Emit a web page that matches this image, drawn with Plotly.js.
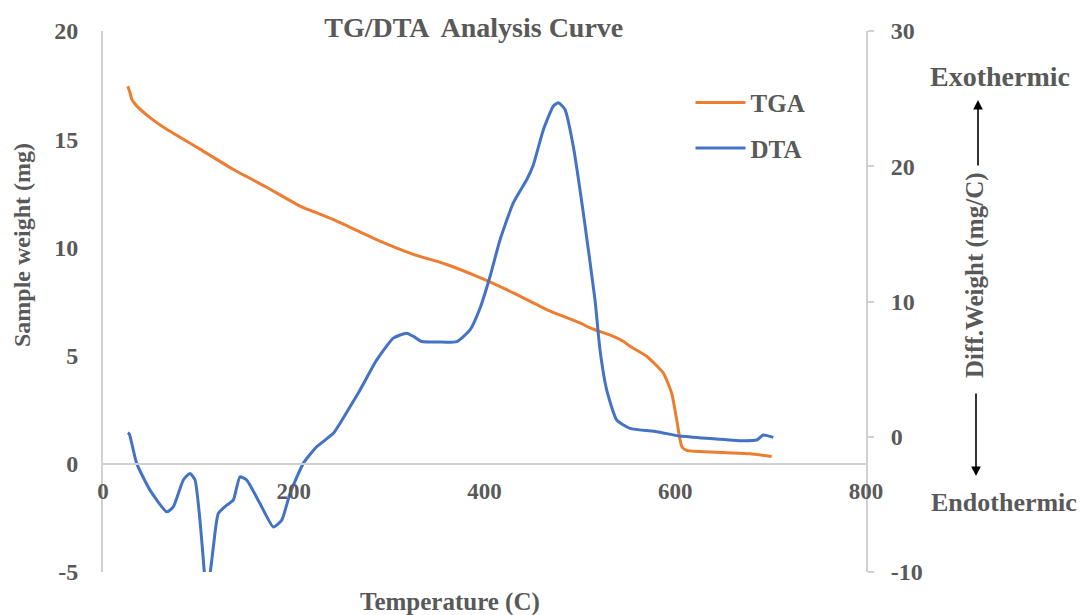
<!DOCTYPE html>
<html>
<head>
<meta charset="utf-8">
<script src="https://cdn.plot.ly/plotly-3.0.1.min.js"></script>
<style>html,body{margin:0;padding:0;background:#fff;}#chart{width:1082px;height:615px;}</style>
</head>
<body>
<div id="chart"></div>
<script>
// Temperature (C) and TGA sample weight (mg)
const tgaTemp = [26, 28.3, 30.1, 35.3, 49.3, 66.8, 101.7, 136.3, 171.6, 206.6, 241.2, 259, 290.4, 325.4, 360.4, 395.3, 430.2, 465.2, 500.1, 510.6, 535.1, 545.5, 552.6, 570, 587.4, 596.2, 601.5, 606.8, 612, 650.4, 678.4, 701.1];
const tgaWeight = [17.45, 17.16, 16.85, 16.54, 16.0, 15.46, 14.54, 13.61, 12.78, 11.91, 11.30, 10.93, 10.29, 9.68, 9.21, 8.60, 7.90, 7.13, 6.51, 6.28, 5.89, 5.66, 5.43, 4.97, 4.2, 3.27, 2.04, 0.80, 0.62, 0.52, 0.46, 0.34];

// Temperature (C) and DTA diff. weight (mg/C)
const dtaTemp = [26, 27.6, 35.3, 49.3, 66.8, 73.7, 84.2, 91.2, 96.5, 101.7, 104.5, 108.5, 112.5, 115.7, 120.9, 129.7, 136.6, 143.6, 150.7, 164.6, 178.6, 187.4, 196.1, 210, 224, 241.5, 259, 269.5, 287, 304.4, 318.4, 326, 334.2, 352, 370.9, 384.8, 395.3, 405.8, 416.3, 430.2, 444.2, 451.2, 461.7, 472.1, 477.4, 484.4, 493.1, 503.6, 515.9, 521.1, 528.1, 538.6, 552.6, 580.6, 605, 633, 667.9, 685.3, 692.3, 702.8];
const dtaValue = [0.3, 0.2, -1.97, -3.95, -5.55, -5.19, -3.2, -2.71, -3.2, -6.2, -8.5, -11.5, -10.0, -8.15, -5.67, -5.06, -4.69, -2.96, -3.21, -4.93, -6.67, -6.17, -4.19, -1.97, -0.74, 0.25, 2.22, 3.46, 5.68, 7.29, 7.66, 7.4, 7.04, 7.0, 7.04, 7.9, 9.5, 11.85, 14.57, 17.29, 19.0, 20.1, 22.7, 24.44, 24.7, 24.2, 21.48, 16.55, 10.1, 6.42, 3.46, 1.24, 0.62, 0.37, 0.05, -0.12, -0.29, -0.24, 0.13, -0.05];

const xTicks = [0, 200, 400, 600, 800];
const leftTicks = [-5, 0, 5, 10, 15, 20];
const rightTicks = [-10, 0, 10, 20, 30];

const FONT = "'Liberation Serif', 'Times New Roman', serif";
const GREY = '#595959';
const AXIS = '#d0d0d0';

const traces = [
  {x: tgaTemp, y: tgaWeight, name: 'TGA', type: 'scatter', mode: 'lines', yaxis: 'y',
   line: {color: '#ED7D31', width: 3, shape: 'spline', smoothing: 0.5}, legendgroup: 'a'},
  {x: dtaTemp, y: dtaValue, name: 'DTA', type: 'scatter', mode: 'lines', yaxis: 'y2',
   line: {color: '#4472C4', width: 3, shape: 'spline', smoothing: 0.5}, legendgroup: 'b'}
];

const layout = {
  width: 1082, height: 615,
  margin: {l: 103, r: 216, t: 31, b: 43},
  paper_bgcolor: '#fff', plot_bgcolor: '#fff',
  font: {family: FONT, color: GREY, weight: 700},
  title: {text: 'TG/DTA  Analysis Curve', font: {size: 28, family: FONT, color: GREY, weight: 700},
          xref: 'paper', x: 0.486, xanchor: 'center', yref: 'container', y: 0.955, yanchor: 'middle'},
  showlegend: true,
  legend: {x: 0.77, xanchor: 'left', y: 0.91, yanchor: 'top', bgcolor: 'rgba(0,0,0,0)', itemwidth: 50,
           font: {size: 25, family: FONT, color: GREY, weight: 700}, tracegroupgap: 10},
  xaxis: {range: [0, 800], tickvals: xTicks, ticktext: xTicks.map(String), anchor: 'free', position: 0.2,
          showline: true, linecolor: AXIS, linewidth: 2, showgrid: false, zeroline: false,
          ticks: '', ticklabelstandoff: 7, tickfont: {size: 23, family: FONT, color: GREY, weight: 700}},
  yaxis: {range: [-5, 20], tickvals: leftTicks, ticktext: leftTicks.map(String),
          showline: true, linecolor: AXIS, linewidth: 2, showgrid: false, zeroline: false,
          ticks: '', ticklabelstandoff: 18, tickfont: {size: 24, family: FONT, color: GREY, weight: 700}},
  yaxis2: {range: [-10, 30], tickvals: rightTicks, ticktext: rightTicks.map(String), overlaying: 'y', side: 'right',
           showline: true, linecolor: AXIS, linewidth: 2, showgrid: false, zeroline: false,
           ticks: 'outside', ticklen: 6, tickcolor: AXIS, tickwidth: 2, ticklabelstandoff: 12,
           tickfont: {size: 24, family: FONT, color: GREY, weight: 700}},
  annotations: [
    {text: 'Sample weight (mg)', xref: 'paper', yref: 'paper', x: (22-103)/763, y: (572-245)/541,
     xanchor: 'center', yanchor: 'middle', textangle: -90, showarrow: false,
     font: {size: 24, family: FONT, color: GREY, weight: 700}},
    {text: 'Temperature (C)', xref: 'paper', yref: 'paper', x: (450-103)/763, y: (572-602)/541,
     xanchor: 'center', yanchor: 'middle', showarrow: false,
     font: {size: 25, family: FONT, color: GREY, weight: 700}},
    {text: 'Diff.Weight (mg/C)', xref: 'paper', yref: 'paper', x: (975-103)/763, y: (572-275)/541,
     xanchor: 'center', yanchor: 'middle', textangle: -90, showarrow: false,
     font: {size: 25, family: FONT, color: GREY, weight: 700}},
    {text: 'Exothermic', xref: 'paper', yref: 'paper', x: (1000-103)/763, y: (572-77)/541,
     xanchor: 'center', yanchor: 'middle', showarrow: false,
     font: {size: 28, family: FONT, color: GREY, weight: 700}},
    {text: 'Endothermic', xref: 'paper', yref: 'paper', x: (1004-103)/763, y: (572-502)/541,
     xanchor: 'center', yanchor: 'middle', showarrow: false,
     font: {size: 26, family: FONT, color: GREY, weight: 700}},
    {text: '', xref: 'paper', yref: 'paper', x: (978-103)/763, y: (572-100)/541,
     ax: 0, ay: 67, showarrow: true, arrowhead: 2, arrowsize: 1.2, arrowwidth: 1.6, arrowcolor: '#000'},
    {text: '', xref: 'paper', yref: 'paper', x: (976-103)/763, y: (572-476)/541,
     ax: 0, ay: -84, showarrow: true, arrowhead: 2, arrowsize: 1.2, arrowwidth: 1.6, arrowcolor: '#000'}
  ]
};

Plotly.newPlot('chart', traces, layout, {displayModeBar: false, staticPlot: true});
</script>
</body>
</html>
